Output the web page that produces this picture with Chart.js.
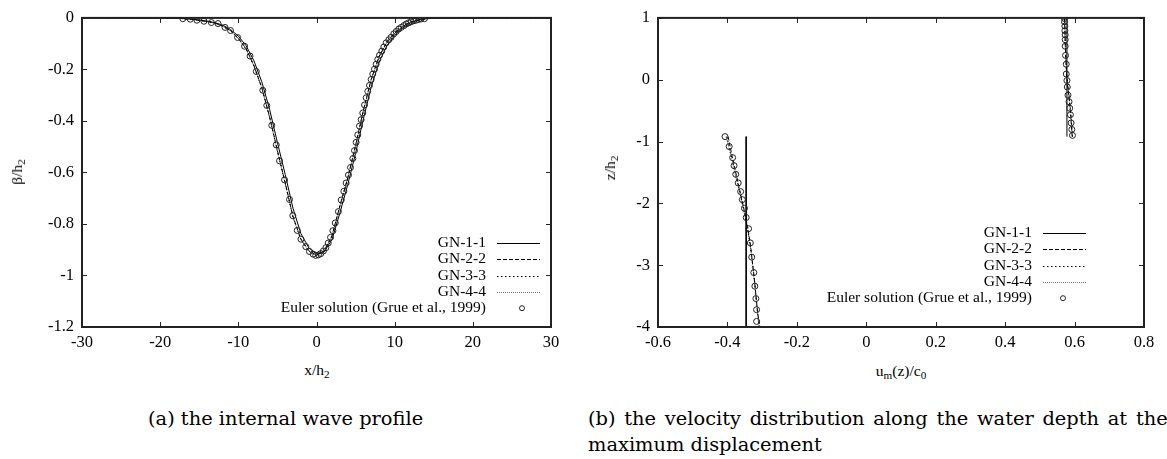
<!DOCTYPE html>
<html>
<head>
<meta charset="utf-8">
<script src="https://cdn.jsdelivr.net/npm/chart.js@4.4.0/dist/chart.umd.min.js"></script>
<style>
  body { margin: 0; width: 1167px; height: 459px; background: #fff; overflow: hidden; position: relative;
         font-family: "Liberation Serif", serif; color: #000; }
  canvas { position: absolute; top: 0; }
  #profile { left: 0; }
  #velocity { left: 580px; }
  .ttl { position: absolute; font-size: 15.5px; white-space: nowrap; transform: translate(-50%, -50%); }
  .ttl.rot { transform: translate(-50%, -50%) rotate(-90deg); }
  .ttl sub { font-size: 0.72em; vertical-align: -0.3em; line-height: 0; }
  .cap { position: absolute; font-family: "DejaVu Serif", serif; font-size: 19.4px; line-height: 26px; white-space: nowrap; }
</style>
</head>
<body>
<canvas id="profile" width="580" height="360"></canvas>
<canvas id="velocity" width="587" height="360"></canvas>

<div class="ttl rot" style="left:17px; top:172px">β/h<sub>2</sub></div>
<div class="ttl" style="left:317px; top:370px">x/h<sub>2</sub></div>
<div class="ttl rot" style="left:610px; top:168px">z/h<sub>2</sub></div>
<div class="ttl" style="left:901px; top:371px">u<sub>m</sub>(z)/c<sub>0</sub></div>

<div class="cap" style="left:148px; top:406px">(a) the internal wave profile</div>
<div class="cap" style="left:588px; top:406px"><span style="word-spacing:2.6px">(b) the velocity distribution along the water depth at the</span><br>maximum displacement</div>

<script>
// (a) perfil de la onda interna
const gnX = [-30, -25, -22, -20, -18, -17, -16, -15, -14, -13, -12, -11, -10, -9, -8, -7, -6, -5, -4, -3, -2, -1, 0,
             1, 2, 3, 4, 5, 6, 7, 8, 9, 10, 11, 12, 13, 14, 15, 16, 18, 20, 22, 25, 30];
const gn11Y = [0, 0, -0.0002, -0.0003, -0.0012, -0.0026, -0.0048, -0.0085, -0.0125, -0.0185, -0.028, -0.045, -0.071, -0.108,
               -0.167, -0.248, -0.355, -0.484, -0.608, -0.740, -0.837, -0.892, -0.916, -0.908, -0.859, -0.757, -0.647,
               -0.526, -0.392, -0.268, -0.172, -0.108, -0.068, -0.0395, -0.020, -0.009, -0.0035, -0.0013, -0.0006, 0, 0, 0, 0, 0];
const gn22Y = [0, 0, -0.0002, -0.0004, -0.0015, -0.003, -0.0055, -0.0095, -0.014, -0.020, -0.032, -0.049, -0.079, -0.119,
               -0.185, -0.270, -0.383, -0.515, -0.640, -0.772, -0.858, -0.903, -0.921, -0.903, -0.844, -0.728, -0.620,
               -0.495, -0.358, -0.238, -0.150, -0.094, -0.059, -0.033, -0.016, -0.007, -0.0025, -0.001, -0.0005, 0, 0, 0, 0, 0];
const gn33Y = [0, 0, -0.0002, -0.0004, -0.0015, -0.003, -0.0056, -0.0096, -0.0142, -0.0203, -0.0325, -0.050, -0.080, -0.121,
               -0.187, -0.272, -0.386, -0.518, -0.643, -0.774, -0.860, -0.905, -0.923, -0.905, -0.846, -0.731, -0.623,
               -0.498, -0.361, -0.240, -0.152, -0.095, -0.060, -0.034, -0.0165, -0.0072, -0.0026, -0.001, -0.0005, 0, 0, 0, 0, 0];
const gn44Y = [0, 0, -0.0002, -0.0004, -0.0015, -0.003, -0.0056, -0.0097, -0.0143, -0.0205, -0.033, -0.0505, -0.081, -0.122,
               -0.188, -0.273, -0.387, -0.519, -0.644, -0.775, -0.861, -0.906, -0.924, -0.906, -0.847, -0.732, -0.624,
               -0.499, -0.362, -0.241, -0.153, -0.096, -0.060, -0.034, -0.0166, -0.0073, -0.0026, -0.001, -0.0005, 0, 0, 0, 0, 0];

const eulerProfileX = [-17.1, -16.15, -15.3, -14.4, -13.45, -12.6, -11.7, -11.0, -10.1, -9.2, -8.5, -7.7, -6.87, -6.36,
                       -5.72, -5.15, -4.73, -4.09, -3.45, -3.03, -2.46, -1.99, -1.37, -0.9, -0.43, -0.1,
                       0.24, 0.55, 0.88, 1.2, 1.5, 1.8, 2.1, 2.4, 2.8,
                       3.16, 3.5, 3.79, 4.09, 4.35, 4.65, 4.86, 5.07, 5.28, 5.5, 5.71, 5.92, 6.14, 6.36, 6.56, 6.78,
                       6.99, 7.2, 7.42, 7.63, 7.84, 8.06, 8.35, 8.61, 8.91, 9.25, 9.55, 9.89, 10.19, 10.53, 10.83,
                       11.17, 11.47, 11.8, 12.11, 12.44, 12.75, 13.08, 13.39, 13.81];
const eulerProfileY = [-0.003, -0.005, -0.009, -0.013, -0.018, -0.022, -0.037, -0.049, -0.076, -0.110, -0.148, -0.208,
                       -0.281, -0.340, -0.417, -0.493, -0.555, -0.629, -0.705, -0.768, -0.825, -0.859, -0.888, -0.907,
                       -0.917, -0.922,
                       -0.920, -0.915, -0.905, -0.892, -0.874, -0.852, -0.826, -0.796, -0.752,
                       -0.707, -0.673, -0.641, -0.610, -0.581, -0.546, -0.515, -0.483, -0.454, -0.420, -0.395, -0.369,
                       -0.338, -0.310, -0.285, -0.262, -0.239, -0.218, -0.199, -0.180, -0.161, -0.145, -0.129, -0.113,
                       -0.097, -0.085, -0.075, -0.062, -0.053, -0.043, -0.037, -0.030, -0.024, -0.019, -0.015, -0.011,
                       -0.009, -0.006, -0.004, -0.003];

// (b) velocidad en la profundidad
const lowerZ = [-0.92, -1.2, -1.5, -1.8, -2.1, -2.4, -2.7, -3.0, -3.3, -3.6, -3.8, -4.0];
const gn11Lower = [-0.346, -0.346, -0.346, -0.346, -0.346, -0.346, -0.346, -0.346, -0.346, -0.346, -0.346, -0.346];
const gn22Lower = [-0.398, -0.388, -0.376, -0.364, -0.352, -0.341, -0.333, -0.327, -0.321, -0.316, -0.312, -0.306];
const gn33Lower = [-0.402, -0.390, -0.378, -0.365, -0.353, -0.342, -0.334, -0.327, -0.321, -0.316, -0.313, -0.308];
const gn44Lower = [-0.404, -0.392, -0.379, -0.366, -0.354, -0.343, -0.334, -0.328, -0.322, -0.317, -0.313, -0.309];

const upperZ = [-0.92, -0.6, -0.3, 0, 0.3, 0.6, 1.0];
const gn11Upper = [0.578, 0.578, 0.578, 0.578, 0.578, 0.578, 0.578];
const gn22Upper = [0.593, 0.589, 0.584, 0.578, 0.575, 0.573, 0.571];
const gn33Upper = [0.594, 0.590, 0.585, 0.579, 0.575, 0.573, 0.571];
const gn44Upper = [0.594, 0.590, 0.585, 0.579, 0.576, 0.574, 0.572];

const eulerLowerU = [-0.407, -0.395, -0.385, -0.381, -0.376, -0.369, -0.362, -0.357, -0.351, -0.346, -0.339, -0.334,
                     -0.330, -0.324, -0.321, -0.318, -0.316, -0.316];
const eulerLowerZ = [-0.92, -1.08, -1.26, -1.39, -1.53, -1.67, -1.81, -1.94, -2.08, -2.23, -2.41, -2.64,
                     -2.87, -3.12, -3.34, -3.54, -3.72, -3.91];
const eulerUpperU = [0.571, 0.571, 0.572, 0.572, 0.573, 0.573, 0.573, 0.574, 0.576, 0.576, 0.578, 0.579, 0.581,
                     0.584, 0.586, 0.588, 0.590, 0.592, 0.594];
const eulerUpperZ = [0.99, 0.937, 0.868, 0.794, 0.726, 0.647, 0.541, 0.393, 0.251, 0.092, -0.013, -0.118, -0.25,
                     -0.356, -0.461, -0.567, -0.699, -0.804, -0.9];

const legendLabels = ['GN-1-1', 'GN-2-2', 'GN-3-3', 'GN-4-4', 'Euler solution (Grue et al., 1999)'];

const lineStyles = [
  { color: '#000', dash: [] },
  { color: '#000', dash: [4, 2] },
  { color: '#000', dash: [1.5, 2.5] },
  { color: '#777', dash: [1, 1] }
];
const FONT = '"Liberation Serif", serif';

function puntos(xs, ys) {
  return xs.map((x, i) => ({ x: x, y: ys[i] }));
}

function linea(label, xs, ys, style) {
  return {
    label: label, data: puntos(xs, ys), showLine: true, pointRadius: 0,
    borderColor: style.color, borderDash: style.dash, borderWidth: 1, fill: false
  };
}

function marcas(label, xs, ys) {
  return {
    label: label, data: puntos(xs, ys), showLine: false, pointRadius: 3, pointStyle: 'circle',
    borderColor: '#222', backgroundColor: 'rgba(0,0,0,0)', pointBorderWidth: 1
  };
}

// caja con marcas hacia adentro + leyenda estilo gnuplot
const cajaPlugin = {
  id: 'caja',
  afterDatasetsDraw(chart, args, opts) {
    const ctx = chart.ctx;
    const a = chart.chartArea;
    const sx = chart.scales.x, sy = chart.scales.y;
    ctx.save();
    ctx.strokeStyle = '#222';
    ctx.lineWidth = 1;
    ctx.beginPath();
    sx.ticks.forEach(t => {
      const p = Math.round(sx.getPixelForValue(t.value)) + 0.5;
      ctx.moveTo(p, a.bottom); ctx.lineTo(p, a.bottom - 5);
      ctx.moveTo(p, a.top); ctx.lineTo(p, a.top + 5);
    });
    sy.ticks.forEach(t => {
      const p = Math.round(sy.getPixelForValue(t.value)) + 0.5;
      ctx.moveTo(a.left, p); ctx.lineTo(a.left + 5, p);
      ctx.moveTo(a.right, p); ctx.lineTo(a.right - 5, p);
    });
    ctx.stroke();
    ctx.lineWidth = 2;
    ctx.strokeRect(a.left, a.top, a.right - a.left, a.bottom - a.top);

    // leyenda
    const L = opts.legend;
    ctx.font = '15.5px ' + FONT;
    ctx.fillStyle = '#000';
    ctx.textAlign = 'right';
    ctx.textBaseline = 'middle';
    legendLabels.forEach((lab, i) => {
      const y = a.bottom - L.first + i * 16.3;
      ctx.fillText(lab, a.right - L.text, y);
      if (i < 4) {
        const st = lineStyles[i];
        ctx.strokeStyle = st.color;
        ctx.lineWidth = 1;
        ctx.setLineDash(st.dash);
        ctx.beginPath();
        ctx.moveTo(a.right - L.lineFrom, Math.round(y) + 0.5);
        ctx.lineTo(a.right - L.lineTo, Math.round(y) + 0.5);
        ctx.stroke();
        ctx.setLineDash([]);
      } else {
        ctx.strokeStyle = '#222';
        ctx.beginPath();
        ctx.arc(a.right - L.dot, y, 2.5, 0, Math.PI * 2);
        ctx.stroke();
      }
    });
    ctx.restore();
  }
};

function etiqueta(v) {
  return String(Math.round(v * 10) / 10);
}

function crearGrafico(id, datasets, xr, yr, yWidth, padRight, legend) {
  const tickFont = { family: FONT, size: 16.5 };
  return new Chart(document.getElementById(id).getContext('2d'), {
    type: 'scatter',
    data: { datasets: datasets },
    plugins: [cajaPlugin],
    options: {
      responsive: false,
      animation: false,
      devicePixelRatio: 1,
      layout: { padding: { top: 11, right: padRight, left: 0, bottom: 0 } },
      plugins: {
        legend: { display: false },
        tooltip: { enabled: false },
        caja: { legend: legend }
      },
      scales: {
        x: {
          type: 'linear', min: xr[0], max: xr[1],
          ticks: { stepSize: xr[2], padding: 6, color: '#000', font: tickFont, maxRotation: 0, autoSkip: false, callback: etiqueta },
          grid: { display: false, drawTicks: false },
          border: { display: false },
          afterFit: s => { s.height = 33; }
        },
        y: {
          type: 'linear', min: yr[0], max: yr[1],
          ticks: { stepSize: yr[2], padding: 8, color: '#000', font: tickFont, autoSkip: false, callback: etiqueta },
          grid: { display: false, drawTicks: false },
          border: { display: false },
          afterFit: s => { s.width = yWidth; }
        }
      }
    }
  });
}

crearGrafico('profile', [
  marcas(legendLabels[4], eulerProfileX, eulerProfileY),
  linea(legendLabels[0], gnX, gn11Y, lineStyles[0]),
  linea(legendLabels[1], gnX, gn22Y, lineStyles[1]),
  linea(legendLabels[2], gnX, gn33Y, lineStyles[2]),
  linea(legendLabels[3], gnX, gn44Y, lineStyles[3])
], [-30, 30, 10], [-1.2, 0, 0.2], 82, 29, { first: 84, text: 65, lineFrom: 54, lineTo: 11, dot: 29 });

crearGrafico('velocity', [
  marcas(legendLabels[4], eulerLowerU, eulerLowerZ),
  marcas(legendLabels[4], eulerUpperU, eulerUpperZ),
  linea(legendLabels[0], gn11Lower, lowerZ, lineStyles[0]),
  linea(legendLabels[0], gn11Upper, upperZ, lineStyles[0]),
  linea(legendLabels[1], gn22Lower, lowerZ, lineStyles[1]),
  linea(legendLabels[1], gn22Upper, upperZ, lineStyles[1]),
  linea(legendLabels[2], gn33Lower, lowerZ, lineStyles[2]),
  linea(legendLabels[2], gn33Upper, upperZ, lineStyles[2]),
  linea(legendLabels[3], gn44Lower, lowerZ, lineStyles[3]),
  linea(legendLabels[3], gn44Upper, upperZ, lineStyles[3])
], [-0.6, 0.8, 0.2], [-4, 1, 1], 78, 23, { first: 94, text: 112, lineFrom: 101, lineTo: 58, dot: 81 });
</script>
</body>
</html>
